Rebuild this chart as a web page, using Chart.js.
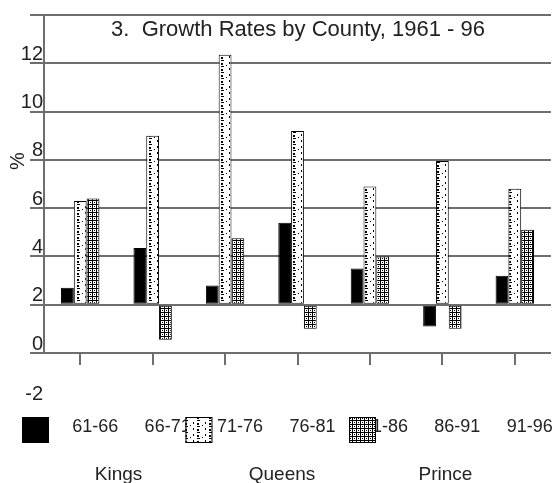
<!DOCTYPE html>
<html>
<head>
<meta charset="utf-8">
<script src="https://cdn.jsdelivr.net/npm/chart.js@4.4.1/dist/chart.umd.min.js"></script>
<style>
  html, body { margin: 0; padding: 0; background: #fff; }
  #wrap { width: 554px; height: 483px; position: relative; }
</style>
</head>
<body>
<div id="wrap"><canvas id="chart"></canvas></div>
<script>
const chartTitle = '3.  Growth Rates by County, 1961 - 96';
const periods = ['61-66', '66-71', '71-76', '76-81', '81-86', '86-91', '91-96'];
const kings  = [0.7, 2.35, 0.8, 3.4, 1.5, -0.9, 1.2];
const queens = [4.3, 7.0, 10.35, 7.2, 4.9, 5.95, 4.8];
const prince = [4.4, -1.45, 2.75, -1.0, 2.0, -1.0, 3.1];
// the printed axis labels sit one step off the gridlines in the original
const yTickLabels = ['0', '2', '4', '6', '8', '10', '12'];
const yExtraLabel = '-2';
const yUnit = '%';

const FONT = '"Liberation Sans", Arial, sans-serif';
const GRID = '#6e6e6e';

function dotPattern() {
  const c = document.createElement('canvas');
  c.width = 12; c.height = 12;
  const g = c.getContext('2d');
  g.fillStyle = '#fff'; g.fillRect(0, 0, 12, 12);
  g.fillStyle = '#000';
  g.fillRect(5, 0, 3, 1);
  g.fillRect(5, 3, 2, 2);
  g.fillRect(5, 6, 3, 1);
  g.fillRect(5, 9, 2, 2);
  g.fillRect(1, 2, 1, 2);
  g.fillRect(1, 8, 1, 2);
  g.fillRect(10, 5, 1, 1);
  return g.createPattern(c, 'repeat');
}
function ringPattern() {
  const c = document.createElement('canvas');
  c.width = 4; c.height = 4;
  const g = c.getContext('2d');
  g.fillStyle = '#000'; g.fillRect(0, 0, 4, 4);
  g.fillStyle = '#fff'; g.fillRect(1, 1, 3, 3);
  g.fillStyle = '#000'; g.fillRect(2, 2, 1, 1);
  return g.createPattern(c, 'repeat');
}

const decor = {
  id: 'decor',
  afterDraw(chart) {
    const { ctx, scales: { y } } = chart;
    ctx.save();
    ctx.fillStyle = '#222';
    ctx.textBaseline = 'alphabetic';

    ctx.font = '22px ' + FONT;
    ctx.textAlign = 'center';
    ctx.fillText(chartTitle, 298, 36);

    ctx.font = '20px ' + FONT;
    ctx.textAlign = 'right';
    ctx.fillText(yExtraLabel, y.right - 1, y.getPixelForValue(y.min) + 47);

    ctx.save();
    ctx.translate(18, 161);
    ctx.rotate(-Math.PI / 2);
    ctx.font = '20px ' + FONT;
    ctx.textAlign = 'center';
    ctx.textBaseline = 'middle';
    ctx.fillText(yUnit, 0, 0);
    ctx.restore();

    ctx.font = '19px ' + FONT;
    chart.data.datasets.forEach((ds, i) => {
      const bx = 22 + i * 163.5;
      ctx.fillStyle = ds.backgroundColor;
      ctx.fillRect(bx, 417, 27, 26);
      ctx.strokeStyle = '#000';
      ctx.lineWidth = 1;
      ctx.strokeRect(bx + 0.5, 417.5, 26, 25);
      ctx.fillStyle = '#222';
      ctx.textAlign = 'center';
      ctx.fillText(ds.label, bx + 13.5 + 83, 480);
    });
    ctx.restore();
  }
};

const ctx = document.getElementById('chart').getContext('2d');
const bar = (label, data, fill) => ({
  label, data,
  backgroundColor: fill,
  borderColor: '#000',
  borderWidth: 1,
  borderSkipped: false,
  barPercentage: 1,
  categoryPercentage: 0.53
});

new Chart(ctx, {
  type: 'bar',
  data: {
    labels: periods,
    datasets: [
      bar('Kings', kings, '#000'),
      bar('Queens', queens, dotPattern()),
      bar('Prince', prince, ringPattern())
    ]
  },
  options: {
    responsive: true,
    maintainAspectRatio: false,
    animation: false,
    devicePixelRatio: 1,
    layout: { padding: { top: 15, right: 3, left: 0, bottom: 0 } },
    plugins: { legend: { display: false }, title: { display: false }, tooltip: { enabled: false } },
    scales: {
      x: {
        grid: { offset: false, drawOnChartArea: false, drawTicks: true, tickLength: 12, color: GRID, lineWidth: 2 },
        border: { display: false },
        ticks: { color: '#222', font: { family: FONT, size: 18 }, padding: 51, labelOffset: 15, maxRotation: 0, autoSkip: false },
        afterFit: s => { s.height = 130; s.paddingLeft = 0; s.paddingRight = 0; }
      },
      y: {
        min: -2, max: 12,
        ticks: {
          stepSize: 2, color: '#222', padding: -13, labelOffset: -9,
          font: { family: FONT, size: 20 },
          callback: v => yTickLabels[(v + 2) / 2] ?? ''
        },
        grid: { color: GRID, lineWidth: 2, tickLength: 14 },
        border: { display: true, color: GRID, width: 2 },
        afterFit: s => { s.width = 44; s.paddingTop = 0; s.paddingBottom = 0; }
      }
    }
  },
  plugins: [decor]
});
</script>
</body>
</html>
